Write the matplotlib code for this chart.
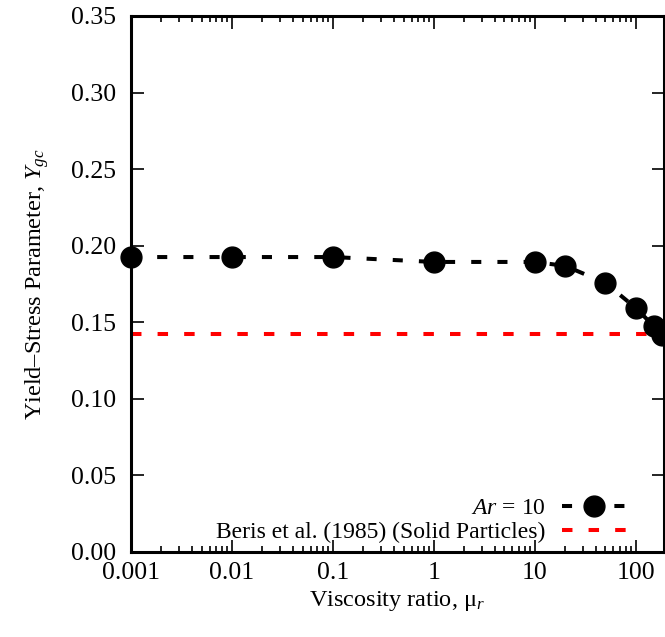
import matplotlib
matplotlib.use("Agg")
import matplotlib.pyplot as plt
from matplotlib.ticker import LogLocator, FixedLocator, NullFormatter

# data
mu_r = [0.001, 0.01, 0.1, 1, 10, 20, 50, 100, 150, 180]
y_gc = [0.1926, 0.1926, 0.1926, 0.1894, 0.1894, 0.1868, 0.1757, 0.1593, 0.1476, 0.1417]
beris_y = 0.1425

xticks = [0.001, 0.01, 0.1, 1, 10, 100]
xtick_labels = ["0.001", "0.01", "0.1", "1", "10", "100"]
yticks = [0.00, 0.05, 0.10, 0.15, 0.20, 0.25, 0.30, 0.35]

plt.rcParams["font.family"] = ["Liberation Serif", "DejaVu Serif"]
plt.rcParams["mathtext.fontset"] = "custom"
plt.rcParams["mathtext.rm"] = "Liberation Serif"
plt.rcParams["mathtext.it"] = "Liberation Serif:italic"

fig = plt.figure(figsize=(6.65, 6.37), dpi=100)
ax = fig.add_axes([131 / 665, 1 - 552 / 637, 533 / 665, 536 / 637])

ax.axhline(beris_y, color="#ff0000", lw=2.9, dashes=(2.6, 4.0),
           label="Beris et al. (1985) (Solid Particles)", zorder=2)
ax.plot(mu_r, y_gc, color="black", lw=2.9, dashes=(2.5, 4.0), marker="o",
        ms=15, label="$Ar$ = 10", zorder=3, clip_on=False)

ax.set_xscale("log")
ax.set_xlim(0.001, 190)
ax.set_ylim(0, 0.35)

ax.xaxis.set_major_locator(FixedLocator(xticks))
ax.set_xticklabels(xtick_labels)
ax.xaxis.set_minor_locator(LogLocator(base=10, subs=range(2, 10), numticks=20))
ax.xaxis.set_minor_formatter(NullFormatter())
ax.set_yticks(yticks)
ax.set_yticklabels(["%.2f" % v for v in yticks])

ax.tick_params(which="both", direction="in", top=True, right=True,
               labelsize=18.5, width=1.2)
ax.tick_params(which="major", length=9)
ax.tick_params(which="minor", length=4)
ax.tick_params(axis="y", pad=11)
ax.tick_params(axis="x", pad=7)
for s in ax.spines.values():
    s.set_linewidth(2.2)

ax.set_xlabel("Viscosity ratio, $\\mathrm{μ}_r$", fontsize=17.5, labelpad=4)
ax.set_ylabel("Yield\u2013Stress Parameter, $Y_{gc}$", fontsize=17.5, labelpad=14)

handles, labels = ax.get_legend_handles_labels()
ax.legend(handles[::-1], labels[::-1], loc="lower right", frameon=False,
          markerfirst=False, numpoints=1, fontsize=17, handlelength=2.7,
          handletextpad=0.7, labelspacing=0.1, borderaxespad=0.3,
          bbox_to_anchor=(0.96, -0.014))

fig.savefig("out.png", dpi=100)
